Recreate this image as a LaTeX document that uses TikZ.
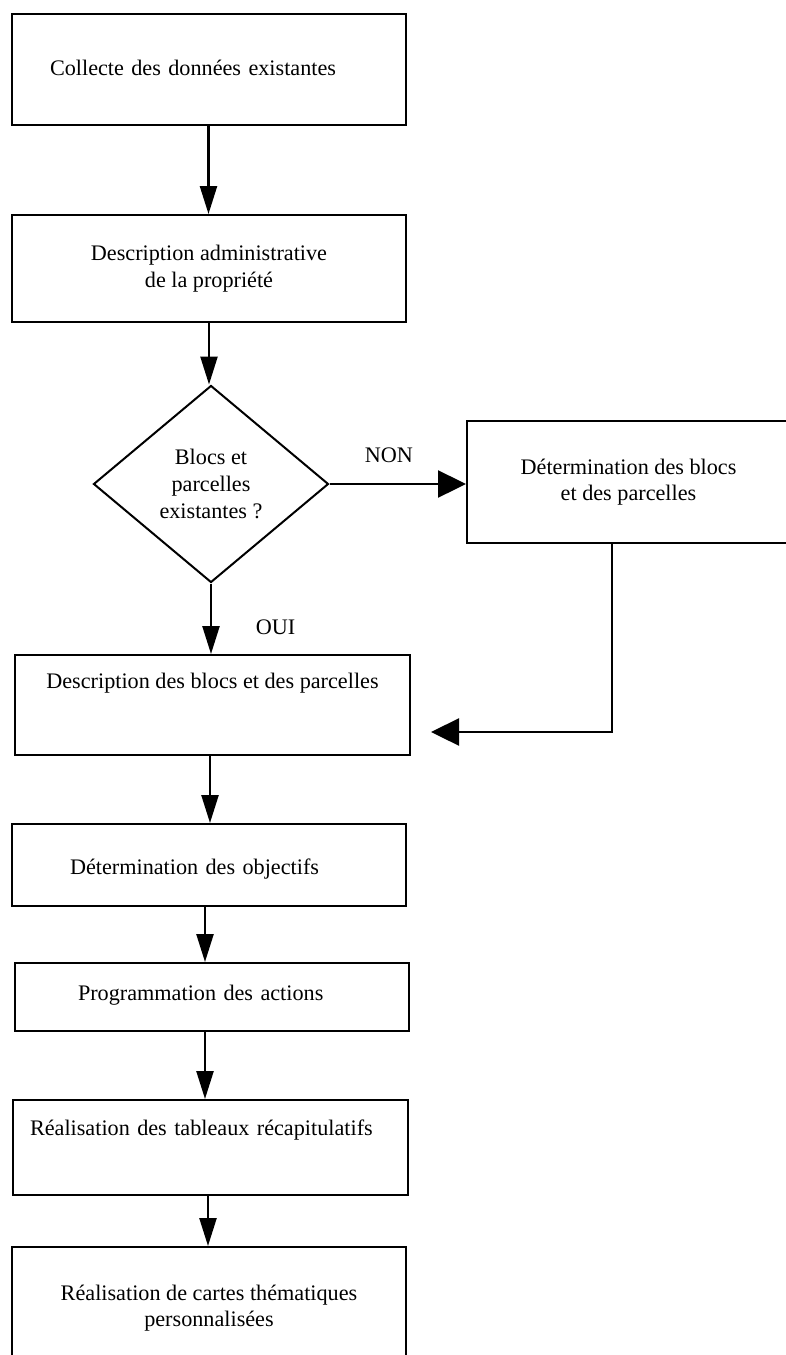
\documentclass[tikz,border=0pt]{standalone}
\usepackage{fontspec}
\setmainfont{Liberation Serif}
\usetikzlibrary{arrows.meta, shapes.geometric}

\begin{document}
\begin{tikzpicture}[
				x=0.5pt, y=-0.5pt,
				every node/.style={font=\fontsize{11.1}{13.3}\selectfont},
				boite/.style={draw, rectangle, line width=1pt, inner sep=0pt, minimum width=197pt, align=center},
				losange/.style={draw, diamond, line width=1pt, inner sep=0pt, minimum width=117.5pt, minimum height=98.5pt, align=center},
				fleche/.style={-{Triangle[length=14pt, width=8.5pt]}, line width=1.2pt},
				flechelarge/.style={-{Triangle[length=14pt, width=13.5pt]}, line width=1.2pt}]

			\useasboundingbox (0,0) rectangle (786,1355);

			\node[boite, text width=158.5pt, inner xsep=19pt, align=left, text height=30.5pt, text depth=25pt] (collecte) at (208.5,69.5) {Collecte des données existantes};
			\node[boite, minimum height=53.5pt] (admin) at (209,268.5) {Description administrative\\de la propriété};
			\node[losange] (test) at (211,484) {Blocs et\\parcelles\\existantes ?};
			\node[boite, minimum width=161.5pt, minimum height=61pt] (detblocs) at (628.5,482) {Détermination des blocs\\et des parcelles};
			\node[boite, minimum width=197.5pt, text height=16.5pt, text depth=33.5pt] (descblocs) at (212.5,705) {Description des blocs et des parcelles};
			\node[boite, text width=139pt, inner xsep=29pt, align=left, text height=25pt, text depth=16pt] (objectifs) at (209,865) {Détermination des objectifs};
			\node[boite, text width=133.5pt, inner xsep=31.5pt, align=left, text height=18.5pt, text depth=15.5pt] (actions) at (211.5,997) {Programmation des actions};
			\node[boite, minimum width=197.5pt, text width=180.5pt, inner xsep=8.5pt, align=left, text height=17.5pt, text depth=30pt] (tableaux) at (210.5,1147.5) {Réalisation des tableaux récapitulatifs};
			\node[boite, minimum height=61pt] (cartes) at (209,1308) {Réalisation de cartes thématiques\\personnalisées};

			\draw[fleche] (collecte.south) -- (collecte.south |- admin.north);
			\draw[fleche] (admin.south) -- (admin.south |- test.north);

			\draw[flechelarge] (test.east) -- (test.east -| detblocs.west) node[pos=0.435, above=6.8pt] {NON};
			\draw[fleche] (test.south) -- (test.south |- descblocs.north) node[pos=0.62, right=18.5pt] {OUI};

			\coordinate (coude) at (612,732);
			\draw[flechelarge, shorten >=10pt] (detblocs.south -| coude) -- (coude) -- (coude -| descblocs.east);

			\draw[fleche] ([xshift=-1.25pt]descblocs.south) -- ([xshift=-1.25pt]descblocs.south |- objectifs.north);
			\draw[fleche] ([xshift=-2pt]objectifs.south) -- ([xshift=-2pt]objectifs.south |- actions.north);
			\draw[fleche] ([xshift=-3.25pt]actions.south) -- ([xshift=-3.25pt]actions.south |- tableaux.north);
			\draw[fleche] ([xshift=-1.25pt]tableaux.south) -- ([xshift=-1.25pt]tableaux.south |- cartes.north);

		\end{tikzpicture}
\end{document}
